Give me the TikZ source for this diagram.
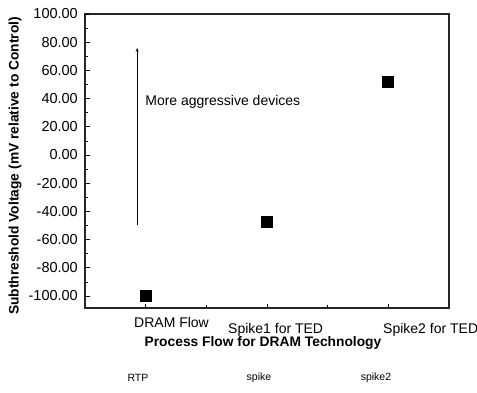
\documentclass[tikz,border=0pt]{standalone}
\usepackage{fontspec}
\setmainfont{Liberation Sans}
\usetikzlibrary{arrows.meta}
\begin{document}
\begin{tikzpicture}[x=1pt,y=1pt,
  axisline/.style={line width=1.1pt,black!85},
  ticklab/.style={font=\fontsize{14.5}{16}\selectfont,anchor=east,inner sep=0pt},
  catlab/.style={font=\fontsize{14}{16}\selectfont,anchor=west,inner sep=0pt},
  smalllab/.style={font=\fontsize{10.5}{12}\selectfont,inner sep=0pt},
  marker/.style={fill=black,minimum size=12pt,inner sep=0pt,draw=none},
  titlelab/.style={font=\bfseries\fontsize{13.8}{16}\selectfont,inner sep=0pt}]
\useasboundingbox (0,0) rectangle (477,393);
\begin{scope}[shift={(24.33pt,238pt)},x=121.33pt,y=1.41pt]
  % frame
  \draw[axisline] (0.5,-108.5) rectangle (3.5,100);
  % y ticks and labels
  \foreach \v/\t in {-100/-100.00,-80/-80.00,-60/-60.00,-40/-40.00,-20/-20.00,0/0.00,20/20.00,40/40.00,60/60.00,80/80.00,100/100.00} {
    \draw[line width=0.8pt] (0.5,\v) -- ++(5pt,0);
    \node[ticklab] at ([xshift=-7pt]0.5,\v) {\t};
  }
  \foreach \v in {-90,-70,...,90} {
    \draw[line width=0.7pt] (0.5,\v) -- ++(3pt,0);
  }
  % x ticks
  \foreach \c in {1,2,3} \draw[line width=0.8pt] (\c,-108.5) -- ++(0,4pt);
  \foreach \c in {1.5,2.5} \draw[line width=0.7pt] (\c,-108.5) -- ++(0,3pt);
  % markers
  \node[marker] (m1) at (1,-100) {};
  \node[marker] (m2) at (2,-47.5) {};
  \node[marker] (m3) at (3,51.8) {};
  % arrow
  \coordinate (abot) at (0.93,-50);
  \coordinate (atop) at (0.93,76);
  \draw[line width=1.2pt,-{Stealth[length=4pt,width=3pt]}] (abot) -- (atop);
  \node[font=\fontsize{14}{16}\selectfont,anchor=west,inner sep=0pt] (more) at (0.996,37.6) {More aggressive devices};
\end{scope}
% category labels
\node[catlab] (c1) at (134,71) {DRAM Flow};
\node[catlab] (c2) at (228,63) {Spike1 for TED};
\node[catlab] (c3) at (383,63) {Spike2 for TED};
% axis titles
\node[titlelab] (xt) at (263,50) {Process Flow for DRAM Technology};
\node[titlelab,rotate=90] (yt) at (15,227) {Subthreshold Voltage (mV relative to Control)};
% bottom labels
\node[smalllab] (r1) at (138,15) {RTP};
\node[smalllab] (r2) at (259,15) {spike};
\node[smalllab] (r3) at (376,15) {spike2};
\end{tikzpicture}
\end{document}
